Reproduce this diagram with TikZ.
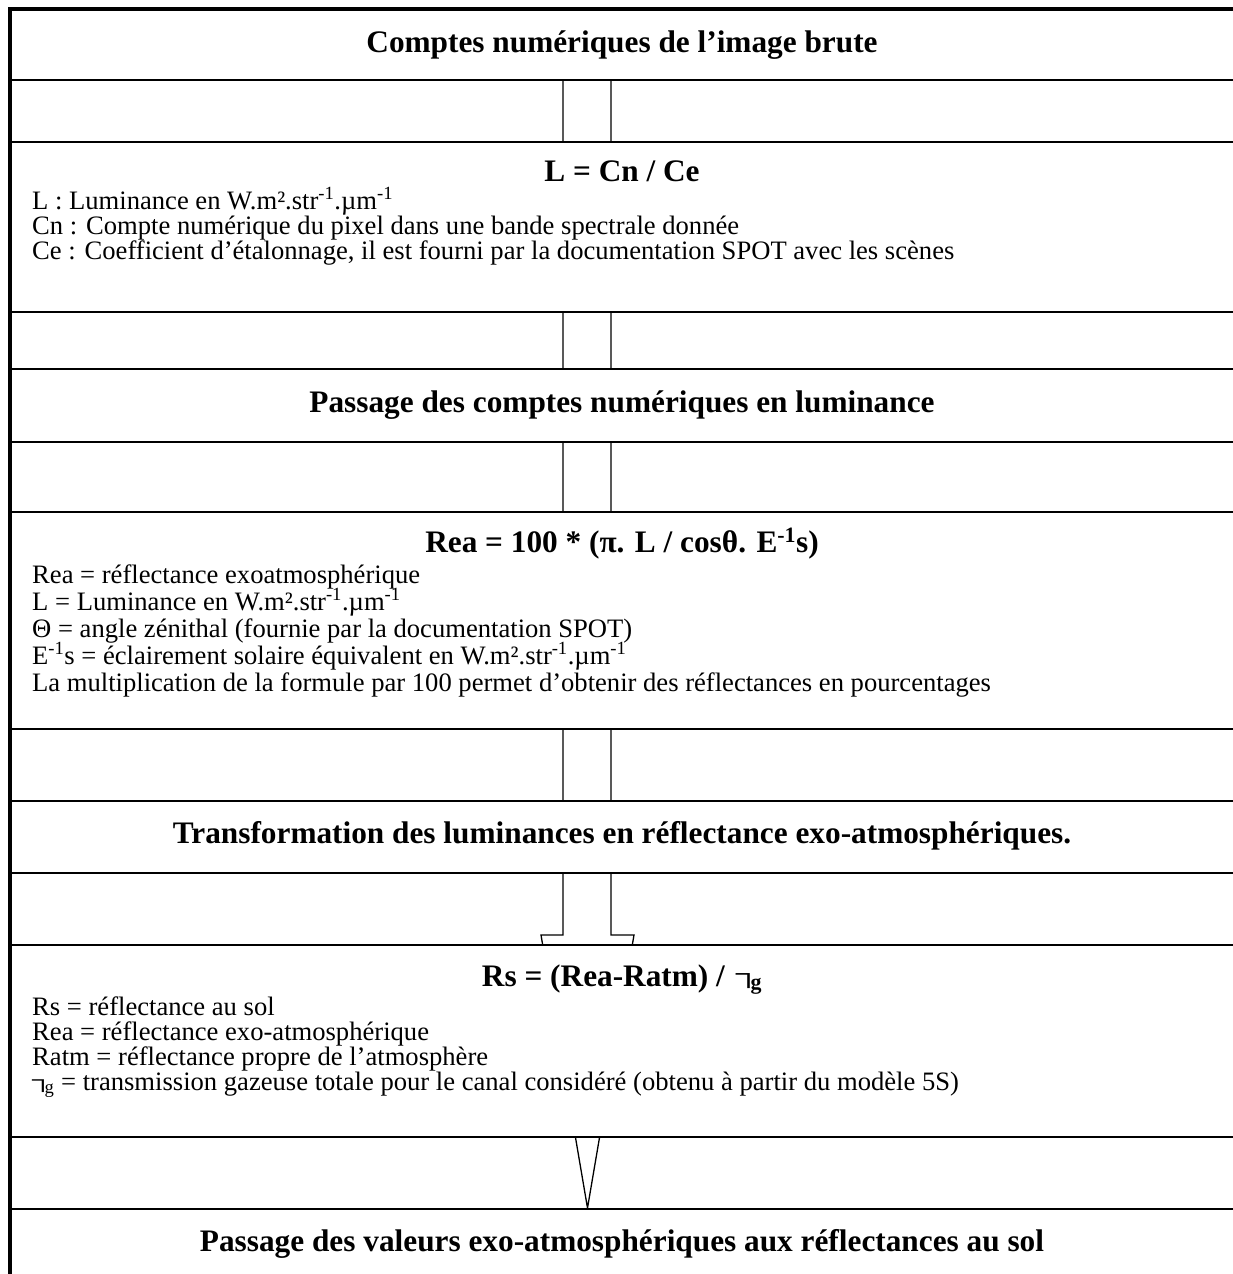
\documentclass[tikz,border=0pt]{standalone}
\usepackage{graphicx}
\usepackage{fontspec}
\setmainfont[Ligatures=NoCommon]{Liberation Serif}
\newcommand{\tausym}{\makebox[0.47em][l]{\raisebox{0.13em}{\scalebox{1.15}[0.75]{┐}}}\textsubscript{g}}
\begin{document}
\begin{tikzpicture}[x=1pt,y=-1pt]
\tikzset{
  frameline/.style={line width=4pt, line join=miter},
  boxnode/.style={draw=black, fill=white, line width=1.8pt, rectangle, inner sep=0pt, outer sep=0pt, minimum width=1260pt, anchor=north west},
  arrowline/.style={draw=black, fill=white, line width=1.3pt, line join=miter},
  titletext/.style={font=\fontsize{31.3}{36}\selectfont\bfseries, anchor=base, inner sep=0pt},
  bodytext/.style={font=\fontsize{26.6}{30}\selectfont, anchor=base west, inner sep=0pt},
}
\useasboundingbox (0,0) rectangle (1233,1274);
\clip (0,0) rectangle (1233,1274);
\fill[white] (0,0) rectangle (1233,1274);

% block arrow (behind the boxes)
\coordinate (astart) at (587,70);
\coordinate (atip) at (587.5,1208);
\draw[arrowline] (astart) ++(-24,0) |- (541,935) -- (atip) -- (634,935) -| ([xshift=24pt]astart) -- cycle;

% boxes
\node[boxnode, minimum height=71pt]  (box1) at (10,9) {};
\node[boxnode, minimum height=170pt] (box2) at (10,142) {};
\node[boxnode, minimum height=73pt]  (box3) at (10,369) {};
\node[boxnode, minimum height=217pt] (box4) at (10,512) {};
\node[boxnode, minimum height=72pt]  (box5) at (10,801) {};
\node[boxnode, minimum height=192pt] (box6) at (10,945) {};
\node[boxnode, minimum height=120pt] (box7) at (10,1209) {};

% outer frame
\draw[frameline] (10,1300) -- (10,9) -- (1260,9);

% texts
\node[titletext] (t1) at (622,52) {Comptes numériques de l’image brute};

\node[titletext] (f2) at (622,181) {L = Cn / Ce};
\node[bodytext] (l2a) at (32,209) {L : Luminance en W.m².str\textsuperscript{-1}.µm\textsuperscript{-1}};
\node[bodytext] (l2b) at (32,234) {Cn : Compte numérique du pixel dans une bande spectrale donnée};
\node[bodytext] (l2c) at (32,259) {Ce : Coefficient d’étalonnage, il est fourni par la documentation SPOT avec les scènes};

\node[titletext] (t3) at (622,412) {Passage des comptes numériques en luminance};

\node[titletext] (f4) at (622,552) {Rea = 100 * (π. L / cosθ. E\textsuperscript{-1}s)};
\node[bodytext] (l4a) at (32,583) {Rea = réflectance exoatmosphérique};
\node[bodytext] (l4b) at (32,610) {L = Luminance en W.m².str\textsuperscript{-1}.µm\textsuperscript{-1}};
\node[bodytext] (l4c) at (32,637) {Θ = angle zénithal (fournie par la documentation SPOT)};
\node[bodytext] (l4d) at (32,664) {E\textsuperscript{-1}s = éclairement solaire équivalent en W.m².str\textsuperscript{-1}.µm\textsuperscript{-1}};
\node[bodytext] (l4e) at (32,691) {La multiplication de la formule par 100 permet d’obtenir des réflectances en pourcentages};

\node[titletext] (t5) at (622,843) {Transformation des luminances en réflectance exo-atmosphériques.};

\node[titletext] (f6) at (622,986) {Rs = (Rea-Ratm) / \kern0.1em\tausym};
\node[bodytext] (l6a) at (32,1015) {Rs = réflectance au sol};
\node[bodytext] (l6b) at (32,1040) {Rea = réflectance exo-atmosphérique};
\node[bodytext] (l6c) at (32,1065) {Ratm = réflectance propre de l’atmosphère};
\node[bodytext] (l6d) at (32,1090) {\tausym{} = transmission gazeuse totale pour le canal considéré (obtenu à partir du modèle 5S)};

\node[titletext] (t7) at (622,1251) {Passage des valeurs exo-atmosphériques aux réflectances au sol};
\end{tikzpicture}
\end{document}
